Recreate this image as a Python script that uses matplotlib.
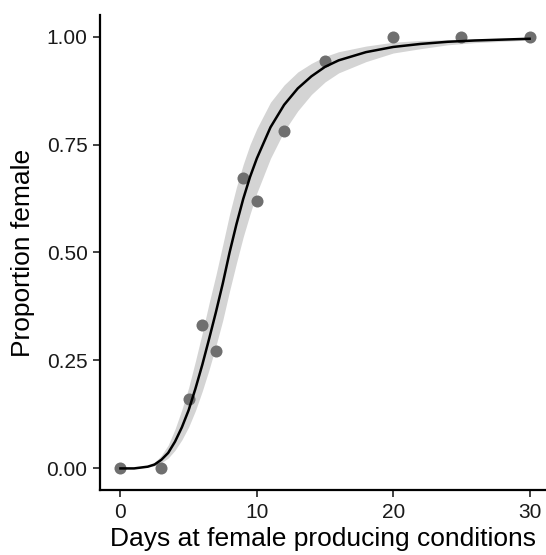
import numpy as np
from matplotlib import pyplot as plt

plt.rcParams['font.family'] = ['Liberation Sans', 'DejaVu Sans']

# observed proportions
days = [0, 3, 5, 6, 7, 9, 10, 12, 15, 20, 25, 30]
prop_female = [0.0, 0.0, 0.16, 0.332, 0.271, 0.672, 0.619, 0.781, 0.943, 1.0, 1.0, 1.0]

# fitted curve and confidence band
fit_days = [0, 1, 2, 2.5, 3, 3.5, 4, 4.5, 5, 5.5, 6, 6.5, 7, 7.5, 8, 8.5, 9, 9.5,
            10, 11, 12, 13, 14, 15, 16, 18, 20, 22, 24, 26, 28, 30]
fit = [0.0, 0.0, 0.004, 0.009, 0.020, 0.036, 0.062, 0.095, 0.135, 0.185, 0.240, 0.300,
       0.362, 0.428, 0.500, 0.565, 0.624, 0.675, 0.718, 0.790, 0.842, 0.880, 0.908,
       0.930, 0.945, 0.964, 0.976, 0.983, 0.988, 0.991, 0.993, 0.995]
lower = [0.0, 0.0, 0.003, 0.006, 0.013, 0.024, 0.042, 0.066, 0.096, 0.134, 0.179, 0.229,
         0.284, 0.343, 0.411, 0.475, 0.536, 0.589, 0.638, 0.718, 0.781, 0.828, 0.866,
         0.895, 0.916, 0.942, 0.962, 0.972, 0.981, 0.986, 0.989, 0.992]
upper = [0.0, 0.001, 0.006, 0.014, 0.030, 0.054, 0.091, 0.136, 0.187, 0.249, 0.314, 0.383,
         0.448, 0.518, 0.589, 0.651, 0.704, 0.750, 0.787, 0.848, 0.888, 0.918, 0.938,
         0.954, 0.965, 0.978, 0.987, 0.991, 0.993, 0.995, 0.996, 0.997]

x_ticks = [0, 10, 20, 30]
y_ticks = [0.0, 0.25, 0.5, 0.75, 1.0]
y_labels = ['0.00', '0.25', '0.50', '0.75', '1.00']

fig = plt.figure(figsize=(5.46, 5.55), dpi=100)
ax = fig.add_axes([100 / 546, 65 / 555, 446 / 546, 475 / 555])

ax.fill_between(fit_days, lower, upper, color='#d4d4d4', lw=0, zorder=1)
ax.scatter(days, prop_female, s=75, color='#6f6f6f', lw=0, zorder=2)
ax.plot(fit_days, fit, color='black', lw=1.8, zorder=3)

ax.set_xlim(-1.5, 31.2)
ax.set_ylim(-0.05, 1.05)
ax.set_xticks(x_ticks)
ax.set_yticks(y_ticks)
ax.set_yticklabels(y_labels)

for side in ['top', 'right']:
    ax.spines[side].set_visible(False)
for side in ['left', 'bottom']:
    ax.spines[side].set_linewidth(1.6)
ax.tick_params(length=5, width=1.3, color='#333333', labelsize=15, labelcolor='#1a1a1a', pad=4)

ax.set_xlabel('Days at female producing conditions', fontsize=19, labelpad=4)
ax.set_ylabel('Proportion female', fontsize=19, labelpad=8)

fig.savefig('out.png', dpi=100)
